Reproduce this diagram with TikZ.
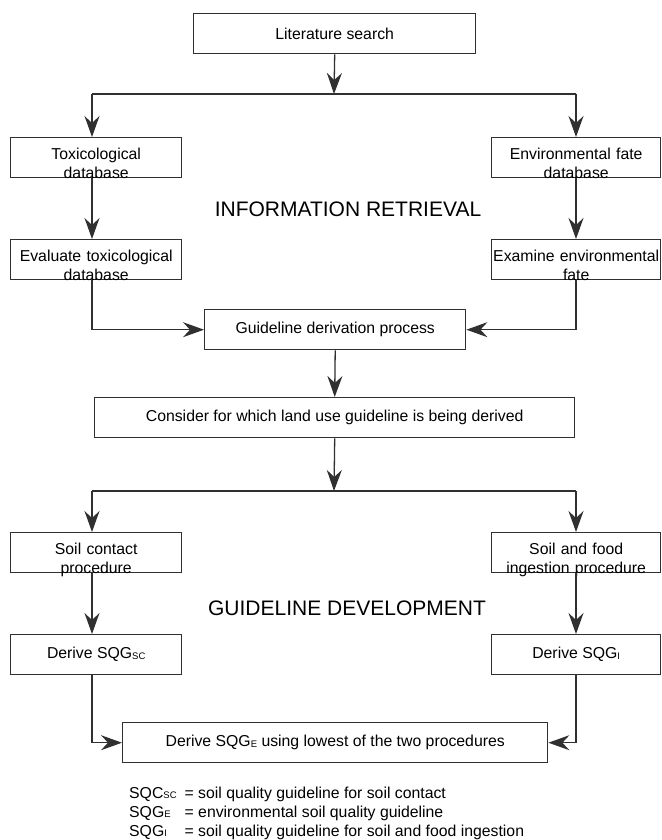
\documentclass[tikz,border=0pt]{standalone}
\usepackage{fontspec}
\setmainfont{Liberation Sans}
\usetikzlibrary{arrows.meta}
\definecolor{ln}{HTML}{303030}
\newcommand{\boxfont}{\fontsize{15.8}{19}\selectfont}
\newcommand{\headfont}{\fontsize{21}{25}\selectfont}
\newcommand{\sbs}[1]{\raisebox{-0.5pt}{\fontsize{9.5}{10}\selectfont #1}}
\begin{document}
\begin{tikzpicture}[x=1pt,y=-1pt,
 box/.style={draw=ln, line width=1.4pt, inner sep=0pt, minimum height=40pt, anchor=north west, font=\boxfont, align=center},
 twoline/.style={text width=#1, text height=21.5pt, text depth=18.5pt},
 conn/.style={draw=ln, line width=1.3pt},
 arr/.style={conn, -{Stealth[length=21pt,width=15pt,inset=7pt]}},
 head/.style={font=\headfont, inner sep=0pt},
]
\useasboundingbox (0,0) rectangle (661,840);

% boxes
\node[box, minimum width=282pt] (lit) at (193,13) {Literature search};
\node[box, minimum width=171pt, twoline=167pt] (tox) at (10,137) {Toxicological\\database};
\node[box, minimum width=169pt, twoline=165pt] (env) at (491,137) {Environmental fate\\database};
\node[box, minimum width=171pt, twoline=169pt] (evl) at (10,239) {Evaluate toxicological\\database};
\node[box, minimum width=169pt, twoline=167pt] (exa) at (491,239) {Examine environmental\\fate};
\node[box, minimum width=261pt] (gdp) at (204,309) {Guideline derivation process};
\node[box, minimum width=480pt] (con) at (94,397) {Consider for which land use guideline is being derived};
\node[box, minimum width=171pt, twoline=169pt] (soil) at (10,532) {Soil contact\\procedure};
\node[box, minimum width=169pt, twoline=167pt] (food) at (491,532) {Soil and food\\ingestion procedure};
\node[box, minimum width=171pt] (dsc) at (10,634) {Derive SQG\sbs{SC}};
\node[box, minimum width=169pt] (di) at (491,634) {Derive SQG\sbs{I}};
\node[box, minimum width=425pt] (de) at (122,722) {Derive SQG\sbs{E} using lowest of the two procedures};

% headings
\node[head] (ir) at (348,209) {INFORMATION RETRIEVAL};
\node[head] (gd) at (347,608) {GUIDELINE DEVELOPMENT};

% legend
\node[anchor=north west, inner sep=0pt, font=\boxfont] (leg) at (129,784.5) {%
\begin{tabular}{@{}l@{\hspace{8pt}}l@{}}
SQC\sbs{SC} & = soil quality guideline for soil contact\\
SQG\sbs{E} & = environmental soil quality guideline\\
SQG\sbs{I} & = soil quality guideline for soil and food ingestion
\end{tabular}};

% branch points
\coordinate (b1) at (334,94);
\coordinate (b1l) at (92,94);
\coordinate (b1r) at (576,94);
\coordinate (b2) at (334,491);
\coordinate (b2l) at (92,491);
\coordinate (b2r) at (576,491);

% connectors
\draw[arr] (lit.south) -- (b1);
\draw[conn] (b1l) -- (b1r);
\draw[arr] (b1l) -- (b1l |- tox.north);
\draw[arr] (b1r) -- (b1r |- env.north);
\draw[arr] (b1l |- tox.south) -- (b1l |- evl.north);
\draw[arr] (b1r |- env.south) -- (b1r |- exa.north);
\draw[arr] (b1l |- evl.south) |- (gdp.west);
\draw[arr] (b1r |- exa.south) |- (gdp.east);
\draw[arr] (gdp.south) -- (con.north);
\draw[arr] (con.south) -- (b2);
\draw[conn] (b2l) -- (b2r);
\draw[arr] (b2l) -- (b2l |- soil.north);
\draw[arr] (b2r) -- (b2r |- food.north);
\draw[arr] (b2l |- soil.south) -- (b2l |- dsc.north);
\draw[arr] (b2r |- food.south) -- (b2r |- di.north);
\draw[arr] (b2l |- dsc.south) |- (de.west);
\draw[arr] (b2r |- di.south) |- (de.east);
\end{tikzpicture}
\end{document}
